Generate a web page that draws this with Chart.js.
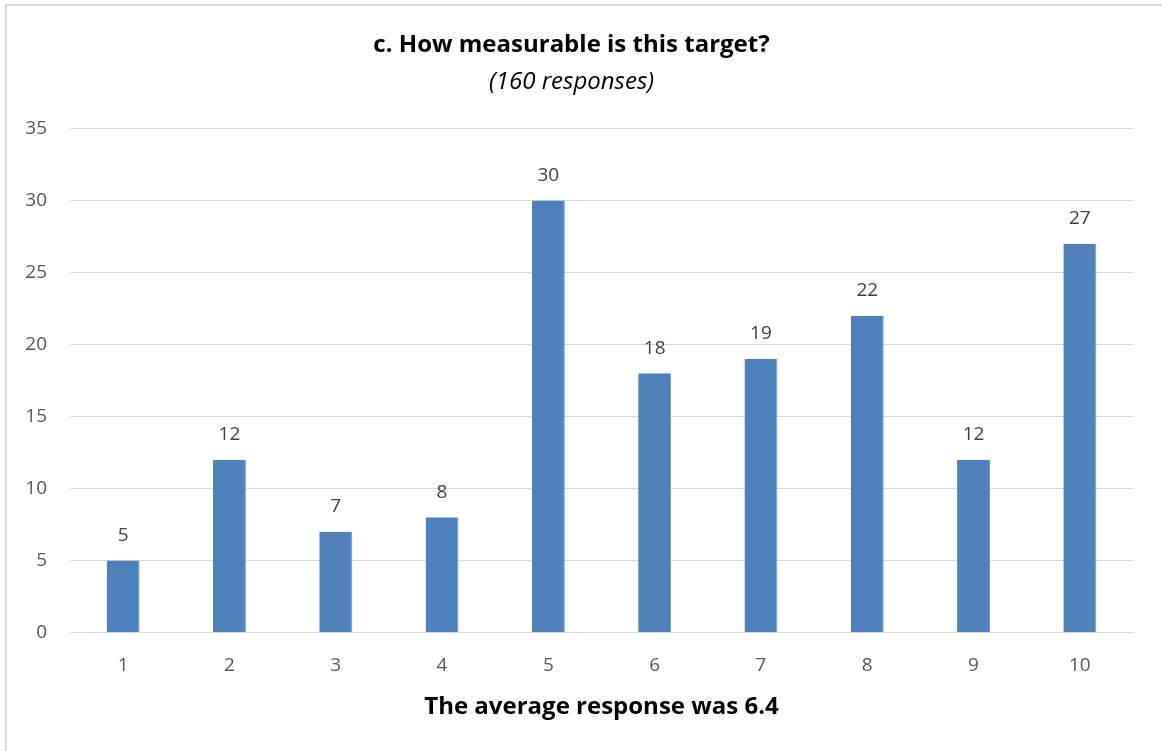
<!DOCTYPE html>
<html>
<head>
<meta charset="utf-8">
<script src="https://cdn.jsdelivr.net/npm/chart.js@4.4.0/dist/chart.umd.min.js"></script>
<style>
  html, body { margin: 0; padding: 0; background: #fff; overflow: hidden; }
  #frame { position: absolute; left: 5px; top: 4px; width: 1300px; height: 900px; border: 2px solid #d9d9d9; pointer-events: none; }
  #wrap { position: absolute; left: 0; top: 0; width: 1162px; height: 751px; }
</style>
</head>
<body>
<div id="frame"></div>
<div id="wrap"><canvas id="c" width="1162" height="751"></canvas></div>
<script>
const categories = ['1','2','3','4','5','6','7','8','9','10'];
const responses = [5, 12, 7, 8, 30, 18, 19, 22, 12, 27];
const titleText = 'c. How measurable is this target?';
const subtitleText = '(160 responses)';
const xTitleText = 'The average response was 6.4';
const yMin = 0, yMax = 35, yStep = 5;

const FONT = "'Open Sans', sans-serif";

const valueLabels = {
  id: 'valueLabels',
  afterDatasetsDraw(chart) {
    const ctx = chart.ctx;
    const meta = chart.getDatasetMeta(0);
    const ys = chart.scales.y;
    ctx.save();
    ctx.font = "19px " + FONT;
    ctx.fillStyle = '#404040';
    ctx.textAlign = 'center';
    ctx.textBaseline = 'middle';
    meta.data.forEach((bar, i) => {
      const v = chart.data.datasets[0].data[i];
      ctx.fillText(String(v), bar.x, ys.getPixelForValue(v) - 25);
    });
    ctx.restore();
  }
};

new Chart(document.getElementById('c'), {
  type: 'bar',
  data: {
    labels: categories,
    datasets: [{
      data: responses,
      backgroundColor: '#4f81bd',
      borderColor: '#6f9bd0',
      borderWidth: {left: 0, right: 1, top: 0, bottom: 0},
      barPercentage: 0.31,
      categoryPercentage: 1.0
    }]
  },
  options: {
    responsive: false,
    animation: false,
    devicePixelRatio: 1,
    layout: { padding: { left: 10, right: 29, top: 31, bottom: 29 } },
    plugins: {
      legend: { display: false },
      tooltip: { enabled: false },
      title: {
        display: true, text: titleText, color: '#000',
        font: { family: FONT, size: 24, weight: 'bold' },
        padding: { top: 0, bottom: 8 }
      },
      subtitle: {
        display: true, text: subtitleText, color: '#000',
        font: { family: FONT, size: 24, style: 'italic' },
        padding: { top: 0, bottom: 32 }
      }
    },
    scales: {
      x: {
        grid: { display: false, drawTicks: false },
        border: { color: '#d9d9d9', width: 1 },
        ticks: { color: '#595959', font: { family: FONT, size: 19 }, padding: 22 },
        title: {
          display: true, text: xTitleText, color: '#000',
          font: { family: FONT, size: 24, weight: 'bold' },
          padding: { top: -6, bottom: 0 }
        }
      },
      y: {
        min: yMin, max: yMax,
        afterFit(scale) { scale.width = 60; },
        grid: { color: '#d9d9d9', lineWidth: 1, drawTicks: false },
        border: { display: false },
        ticks: { stepSize: yStep, color: '#595959', font: { family: FONT, size: 19 }, padding: 23 }
      }
    }
  },
  plugins: [valueLabels]
});
</script>
</body>
</html>
